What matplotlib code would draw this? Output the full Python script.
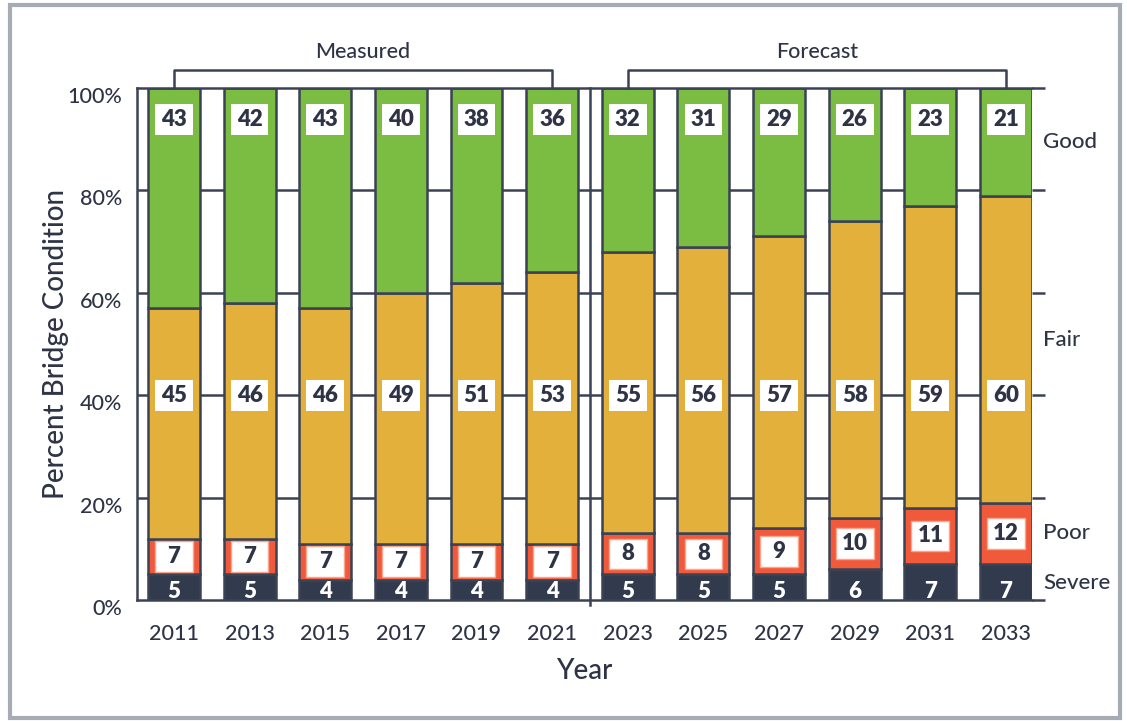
import matplotlib
matplotlib.use('Agg')
import numpy as np
from matplotlib import pyplot as plt
from matplotlib.patches import Rectangle
from matplotlib.transforms import ScaledTranslation

plt.rcParams['font.family'] = ['Lato', 'DejaVu Sans']

# 数据: 各年份桥梁状况百分比
years = ['2011', '2013', '2015', '2017', '2019', '2021',
         '2023', '2025', '2027', '2029', '2031', '2033']
severe = [5, 5, 4, 4, 4, 4, 5, 5, 5, 6, 7, 7]
poor = [7, 7, 7, 7, 7, 7, 8, 8, 9, 10, 11, 12]
fair = [45, 46, 46, 49, 51, 53, 55, 56, 57, 58, 59, 60]
good = [43, 42, 43, 40, 38, 36, 32, 31, 29, 26, 23, 21]
groups = ['Measured', 'Forecast']
conditions = ['Good', 'Fair', 'Poor', 'Severe']

c_good = '#7bbd42'
c_fair = '#e2b03b'
c_poor = '#f05a3b'
c_severe = '#323a4e'
c_line = '#3b4254'
c_text = '#2e3446'
tw = 'medium'

fig = plt.figure(figsize=(11.27, 7.21), dpi=100)
ax = fig.add_axes([137 / 1127, 121 / 721, 895 / 1127, 512 / 721])

x = np.arange(len(years))
w = 0.687
sev = np.array(severe)
poo = np.array(poor)
fai = np.array(fair)
goo = np.array(good)

# 网格线在柱子后面
for v in [20, 40, 60, 80]:
    ax.axhline(v, color=c_line, lw=1.8, zorder=1)

kw = dict(width=w, edgecolor=c_line, linewidth=1.8, zorder=2)
ax.bar(x, sev, color=c_severe, **kw)
ax.bar(x, poo, bottom=sev, color=c_poor, **kw)
ax.bar(x, fai, bottom=sev + poo, color=c_fair, **kw)
ax.bar(x, goo, bottom=sev + poo + fai, color=c_good, **kw)

# 数值标签
bw, bh = 0.5, 6.0
def boxed(xi, yc, s, edge='none'):
    ax.add_patch(Rectangle((xi - bw / 2, yc - bh / 2), bw, bh, facecolor='white',
                           edgecolor=edge, linewidth=1, zorder=3))
    ax.text(xi, yc, s, ha='center', va='center', fontsize=16, fontweight='heavy',
            color=c_text, zorder=4)

for i in range(len(years)):
    boxed(x[i], 93.9, str(good[i]))
    boxed(x[i], 40.0, str(fair[i]))
    boxed(x[i], sev[i] + poo[i] / 2, str(poor[i]), edge='#f8a590')
    ax.text(x[i], 1.7, str(severe[i]), ha='center', va='center', fontsize=16,
            fontweight='heavy', color='white', zorder=4)

xmin, xmax = -0.488, len(years) - 1 + w / 2
ax.set_xlim(xmin, xmax)
ax.set_ylim(0, 100)

# 实测/预测分隔线
ax.plot([5.5, 5.5], [-1, 100], color=c_line, lw=1.8, zorder=5, clip_on=False)

# 顶部括号
for (a, b), name in zip([(0, 5), (6, 11)], groups):
    ax.plot([a, a, b, b], [100, 103.5, 103.5, 100], color=c_line, lw=1.8,
            clip_on=False, zorder=5)
    ax.text((a + b) / 2, 107, name, ha='center', va='center', fontsize=15.5,
            fontweight=tw, color=c_text)

# 右侧状态标签
for name, yv in zip(conditions, [89.4, 50.8, 13.1, 3.3]):
    ax.text(xmax + 0.15, yv, name, ha='left', va='center', fontsize=16,
            fontweight=tw, color=c_text, clip_on=False)

ax.set_yticks([0, 20, 40, 60, 80, 100])
ax.set_yticklabels(['0%', '20%', '40%', '60%', '80%', '100%'], fontweight=tw)
ax.set_xticks(x)
ax.set_xticklabels(years, fontweight=tw)
ax.tick_params(axis='y', left=False, right=True, labelleft=True, labelright=False,
               direction='out', length=9.5, width=1.8, color=c_line,
               labelsize=15.5, labelcolor=c_text, pad=1.3)
ax.tick_params(axis='x', bottom=False, labelsize=15.5, labelcolor=c_text, pad=14)
# y刻度标签略微下移
off = ScaledTranslation(0, -7 / 100, fig.dpi_scale_trans)
for lab in ax.get_yticklabels():
    lab.set_transform(lab.get_transform() + off)
for s in ['left', 'bottom', 'top']:
    ax.spines[s].set_color(c_line)
    ax.spines[s].set_linewidth(1.8)
ax.spines['right'].set_visible(False)

ax.set_xlabel('Year', fontsize=20, fontweight=tw, color=c_text, labelpad=10)
ax.set_ylabel('Percent Bridge Condition', fontsize=20, fontweight=tw,
              color=c_text, labelpad=-1)

# 外框
fig.patches.append(Rectangle((10 / 1127, 3 / 721), 1110 / 1127, 713 / 721,
                             transform=fig.transFigure, fill=False,
                             edgecolor='#a7abb3', linewidth=3))
fig.patches.append(Rectangle((8 / 1127, 3 / 721), 4 / 1127, 704 / 721,
                             transform=fig.transFigure, facecolor='#a7abb3',
                             edgecolor='none'))

fig.savefig('out.png', dpi=100)
